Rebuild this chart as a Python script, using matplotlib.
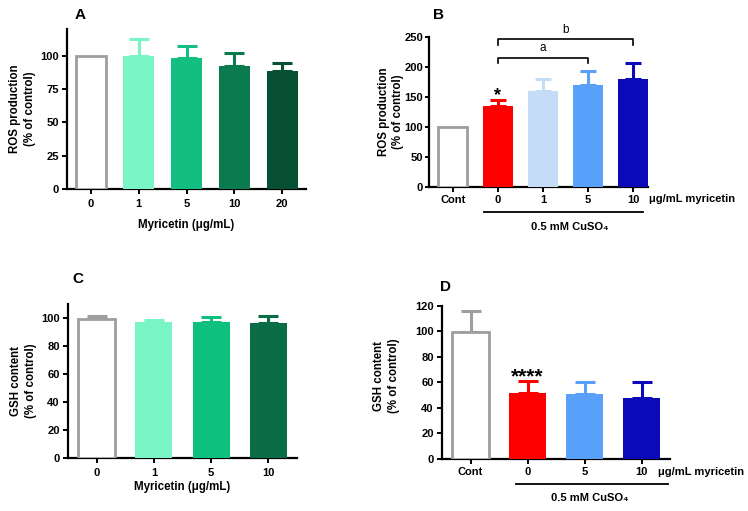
import matplotlib
matplotlib.use("Agg")
import matplotlib.pyplot as plt
import matplotlib.transforms as mtransforms

plt.rcParams['font.family'] = ['Liberation Sans', 'DejaVu Sans']
plt.rcParams['font.weight'] = 'bold'

# ---------------- data ----------------
A_labels = ['0', '1', '5', '10', '20']
A_mean = [100, 100, 98.5, 92, 88.5]
A_err = [0, 12.8, 9.0, 9.7, 6.3]
A_colors = ['white', '#79F5C6', '#12BF80', '#0B7A4E', '#075033']

B_labels = ['Cont', '0', '1', '5', '10']
B_mean = [100, 135, 160, 170, 181]
B_err = [0, 9.5, 19.5, 23.5, 26]
B_colors = ['white', '#FF0000', '#C5DCF7', '#58A0FA', '#0A0AB8']

C_labels = ['0', '1', '5', '10']
C_mean = [99.5, 97.6, 97.6, 96.7]
C_err = [2.4, 1.4, 3.6, 4.8]
C_colors = ['white', '#79F5C6', '#0DC07E', '#0A6D45']

D_labels = ['Cont', '0', '5', '10']
D_mean = [99.6, 51.8, 50.7, 47.8]
D_err = [16.4, 9.4, 9.2, 12.1]
D_colors = ['white', '#FF0000', '#58A0FA', '#0A0AB8']

GREY = '#9E9E9E'
W, H = 748, 511
fig = plt.figure(figsize=(W / 100, H / 100), dpi=100)


def make_ax(l, r, top, bot):
    return fig.add_axes([l / W, (H - bot) / H, (r - l) / W, (bot - top) / H])


def draw(ax, labels, mean, err, colors, ylim, yticks, xlim, capsize, ylabel,
         xlabel=None, xpad=3.5, xlabelpad=7.5):
    x = list(range(len(labels)))
    for i in x:
        if colors[i] == 'white':
            ax.bar(i, mean[i], width=0.64, facecolor='white', edgecolor=GREY,
                   linewidth=2, zorder=3)
            ec = GREY
        else:
            ax.bar(i, mean[i], width=0.65, color=colors[i], linewidth=0, zorder=3)
            ec = colors[i]
        if err[i] > 0:
            ax.errorbar(i, mean[i], yerr=[[0], [err[i]]], fmt='none', ecolor=ec,
                        elinewidth=2.2, capsize=capsize, capthick=2.2, zorder=2)
    ax.set_xlim(*xlim)
    ax.set_ylim(*ylim)
    ax.set_yticks(yticks)
    ax.set_xticks(x)
    ax.set_xticklabels(labels)
    for s in ['top', 'right']:
        ax.spines[s].set_visible(False)
    for s in ['left', 'bottom']:
        ax.spines[s].set_linewidth(1.6)
    ax.tick_params(axis='both', width=1.4, length=3.5, labelsize=8, pad=2.5)
    ax.tick_params(axis='x', pad=xpad)
    for t in ax.get_xticklabels() + ax.get_yticklabels():
        t.set_fontweight('bold')
    ax.set_ylabel(ylabel, fontsize=8.3, fontweight='bold', linespacing=1.3)
    if xlabel:
        ax.set_xlabel(xlabel, fontsize=8.3, fontweight='bold', labelpad=xlabelpad)


# Panel A
axA = make_ax(67, 306, 29, 189)
draw(axA, A_labels, A_mean, A_err, A_colors, (0, 120), [0, 25, 50, 75, 100],
     (-0.5, 4.5), 7, 'ROS production\n(% of control)', 'Myricetin (\u03bcg/mL)',
     xpad=3.7, xlabelpad=7.0)
axA.yaxis.set_label_coords(-0.13, 0.5)

# Panel B
axB = make_ax(429, 648, 37.3, 186.7)
draw(axB, B_labels, B_mean, B_err, B_colors, (0, 250), [0, 50, 100, 150, 200, 250],
     (-0.53, 4.33), 6, 'ROS production\n(% of control)', xpad=2.5)
axB.tick_params(axis='y', length=3, pad=1.2)
axB.yaxis.set_label_coords(-0.112, 0.5)

# Panel C
axC = make_ax(68, 297, 304.3, 458)
draw(axC, C_labels, C_mean, C_err, C_colors, (0, 110), [0, 20, 40, 60, 80, 100],
     (-0.5, 3.5), 7, 'GSH content\n(% of control)', 'Myricetin (\u03bcg/mL)',
     xpad=3.7, xlabelpad=1.8)
axC.yaxis.set_label_coords(-0.135, 0.5)

# Panel D
axD = make_ax(442, 670, 305.7, 458.7)
draw(axD, D_labels, D_mean, D_err, D_colors, (0, 120), [0, 20, 40, 60, 80, 100, 120],
     (-0.5, 3.5), 7, 'GSH content\n(% of control)', xpad=2.7)
axD.yaxis.set_label_coords(-0.184, 0.54)

# Significance marks
axB.text(1, 152, '*', ha='center', va='center', fontsize=13, fontweight='bold')
axD.text(1, 64.5, '****', ha='center', va='center', fontsize=15, fontweight='bold')

# Brackets in B
def bracket(ax, x0, x1, y, drop, label, ly):
    ax.plot([x0, x0, x1, x1], [y - drop, y, y, y - drop], color='black', lw=1.2,
            clip_on=False, zorder=5)
    ax.text((x0 + x1) / 2, ly, label, ha='center', va='center', fontsize=8.5,
            fontweight='normal', clip_on=False)

bracket(axB, 1, 3, 216, 9, 'a', 232)
bracket(axB, 1, 4, 247.5, 10, 'b', 263)

# Under-axis treatment annotations
for ax, x0, x1, ly, unit_x, cux, cuy in [
        (axB, 0.69, 4.22, -0.17, 4.36, 2.6, -0.27),
        (axD, 0.79, 3.47, -0.165, 3.29, 2.1, -0.26)]:
    tr = mtransforms.blended_transform_factory(ax.transData, ax.transAxes)
    ax.plot([x0, x1], [ly, ly], color='black', lw=1.3, transform=tr, clip_on=False)
    ax.text(unit_x, -0.085, '\u03bcg/mL myricetin', transform=tr, ha='left', va='center',
            fontsize=8, fontweight='bold')
    ax.text(cux, cuy, '0.5 mM CuSO\u2084', transform=tr, ha='center', va='center',
            fontsize=8, fontweight='bold')

# Panel letters
for lx, ly, s in [(80, 15, 'A'), (439, 15, 'B'), (78, 279, 'C'), (445, 287, 'D')]:
    fig.text(lx / W, 1 - ly / H, s, ha='center', va='center', fontsize=11, fontweight='bold')

fig.savefig('out.png', dpi=100)
